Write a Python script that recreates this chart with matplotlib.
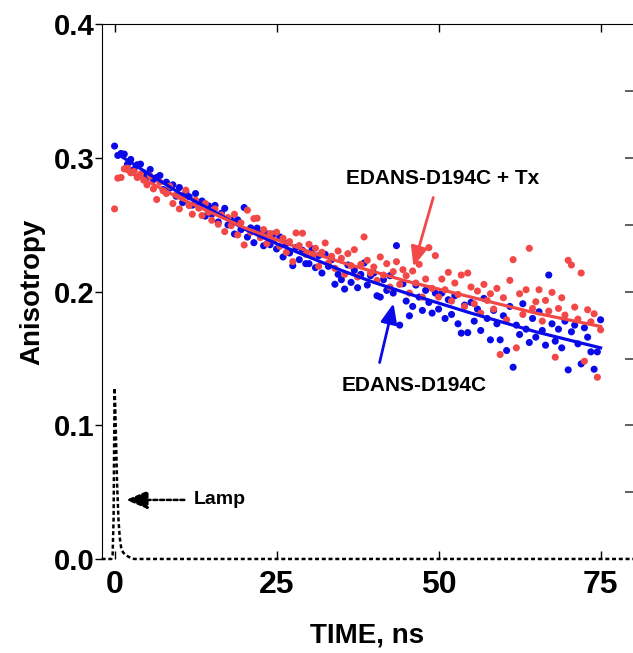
import numpy as np
import matplotlib
matplotlib.use('Agg')
import matplotlib.pyplot as plt

plt.rcParams['font.family'] = ['Liberation Sans', 'DejaVu Sans']
plt.rcParams['font.weight'] = 'bold'

# time channels, ns
time_ns = np.arange(0, 75.5, 0.5)

# EDANS-D194C (blue points)
aniso_d194c = [
    0.309, 0.302, 0.3035, 0.303, 0.2955, 0.299, 0.2915, 0.295, 0.2955, 0.289,
    0.286, 0.2915, 0.284, 0.2855, 0.287, 0.2765, 0.282, 0.2775, 0.280, 0.2715,
    0.278, 0.2667, 0.2744, 0.2711, 0.2648, 0.2735, 0.2642, 0.2679, 0.2566, 0.2643,
    0.258, 0.2646, 0.2522, 0.2588, 0.2624, 0.250, 0.2536, 0.2432, 0.2538, 0.2464,
    0.263, 0.2409, 0.2478, 0.2367, 0.2476, 0.2435, 0.2344, 0.2433, 0.2352, 0.2431,
    0.232, 0.241, 0.226, 0.236, 0.229, 0.2195, 0.233, 0.224, 0.231, 0.221,
    0.221, 0.232, 0.218, 0.227, 0.214, 0.228, 0.219, 0.224, 0.2056, 0.213,
    0.209, 0.202, 0.220, 0.207, 0.216, 0.203, 0.213, 0.2215, 0.205, 0.212,
    0.214, 0.197, 0.196, 0.209, 0.201, 0.212, 0.199, 0.2345, 0.175, 0.206,
    0.193, 0.182, 0.189, 0.205, 0.196, 0.186, 0.201, 0.192, 0.184, 0.199,
    0.187, 0.199, 0.180, 0.194, 0.183, 0.197, 0.176, 0.169, 0.190, 0.1694,
    0.192, 0.178, 0.187, 0.171, 0.195, 0.180, 0.164, 0.186, 0.176, 0.164,
    0.182, 0.156, 0.189, 0.1435, 0.175, 0.168, 0.191, 0.172, 0.162, 0.180,
    0.166, 0.185, 0.171, 0.160, 0.2125, 0.176, 0.163, 0.172, 0.158, 0.178,
    0.1415, 0.170, 0.175, 0.161, 0.146, 0.173, 0.166, 0.155, 0.142, 0.155,
    0.179,
]

# EDANS-D194C + Tx (red points)
aniso_d194c_tx = [
    0.262, 0.285, 0.2855, 0.292, 0.2925, 0.289, 0.290, 0.2855, 0.288, 0.2835,
    0.280, 0.2865, 0.277, 0.269, 0.282, 0.2755, 0.2735, 0.279, 0.266, 0.2725,
    0.262, 0.2705, 0.276, 0.2645, 0.258, 0.2685, 0.2625, 0.257, 0.266, 0.2595,
    0.2535, 0.262, 0.2505, 0.2575, 0.245, 0.2555, 0.2495, 0.258, 0.2425, 0.2515,
    0.235, 0.261, 0.2445, 0.2547, 0.255, 0.2405, 0.2465, 0.236, 0.2435, 0.2385,
    0.2445, 0.234, 0.240, 0.2295, 0.2375, 0.2225, 0.244, 0.2345, 0.2438, 0.228,
    0.2355, 0.2265, 0.2325, 0.219, 0.2295, 0.2365, 0.2215, 0.2265, 0.2175, 0.2305,
    0.225, 0.213, 0.2285, 0.2195, 0.2315, 0.211, 0.2205, 0.241, 0.2235, 0.214,
    0.2185, 0.2085, 0.226, 0.2125, 0.221, 0.2035, 0.215, 0.2225, 0.2055, 0.2165,
    0.212, 0.199, 0.2155, 0.2065, 0.2205, 0.196, 0.2095, 0.233, 0.2025, 0.227,
    0.196, 0.2095, 0.2015, 0.2145, 0.193, 0.2065, 0.198, 0.2125, 0.189, 0.214,
    0.2035, 0.191, 0.2005, 0.184, 0.2055, 0.1935, 0.1985, 0.187, 0.2025, 0.153,
    0.1955, 0.179, 0.2085, 0.224, 0.158, 0.1985, 0.183, 0.2015, 0.2325, 0.1875,
    0.1925, 0.2015, 0.178, 0.1935, 0.1855, 0.1995, 0.151, 0.1875, 0.1955, 0.1825,
    0.2235, 0.220, 0.1885, 0.1795, 0.214, 0.148, 0.1865, 0.1775, 0.1835, 0.136,
    0.1715,
]

# fitted curves
fit_t_blue = [0.5, 5, 10, 15, 20, 25, 30, 35, 40, 45, 50, 55, 60, 65, 70, 75]
fit_blue = [0.303, 0.289, 0.274, 0.261, 0.247, 0.236, 0.226, 0.216, 0.207,
            0.199, 0.1915, 0.184, 0.177, 0.170, 0.164, 0.158]
fit_t_red = [1.5, 5, 10, 15, 20, 25, 30, 35, 40, 45, 50, 55, 60, 65, 70, 75]
fit_red = [0.291, 0.283, 0.270, 0.259, 0.248, 0.239, 0.230, 0.222, 0.215,
           0.208, 0.202, 0.196, 0.190, 0.184, 0.179, 0.174]

# lamp profile
lamp_t = [-2, -0.5, -0.3, -0.15, 0.0, 0.1, 0.25, 0.4, 0.6, 0.8, 1.0, 1.3, 1.7, 2.2, 3.0, 80]
lamp_y = [0, 0, 0.003, 0.03, 0.128, 0.115, 0.085, 0.055, 0.03, 0.016, 0.009,
          0.005, 0.003, 0.0015, 0, 0]

blue = '#0a0ae8'
red = '#f24848'

fig = plt.figure(figsize=(6.33, 6.53), dpi=100)
ax = fig.add_axes([0.1605, 0.144, 1.0 - 0.1605, 0.9625 - 0.144])

ax.plot(lamp_t, lamp_y, color='black', lw=1.8, ls=(0, (1.6, 1.1)), zorder=2,
        clip_on=False)

ax.scatter(time_ns, aniso_d194c, s=26, color=blue, edgecolors='none', zorder=3)
ax.scatter(time_ns, aniso_d194c_tx, s=26, color=red, edgecolors='none', zorder=3)
ax.plot(fit_t_blue, fit_blue, color=blue, lw=2.3, zorder=4)
ax.plot(fit_t_red, fit_red, color=red, lw=2.3, zorder=4)

ax.set_xlim(-2, 80)
ax.set_ylim(0, 0.4)
ax.set_xticks([0, 25, 50, 75])
ax.set_yticks([0.0, 0.1, 0.2, 0.3, 0.4])
ax.set_yticklabels(['0.0', '0.1', '0.2', '0.3', '0.4'])
ax.tick_params(axis='x', direction='in', top=True, bottom=True, length=6,
               width=1, labelsize=23, pad=8)
ax.tick_params(axis='y', direction='out', left=True, right=False, length=5,
               width=1, labelsize=21, pad=0)
ax.spines['bottom'].set_visible(False)
ax.spines['right'].set_visible(False)

ax2 = ax.twinx()
ax2.set_ylim(0, 0.4)
ax2.set_yticks([0.05, 0.1, 0.15, 0.2, 0.25, 0.3, 0.35])
ax2.tick_params(axis='y', direction='in', length=6, width=1.2, color='#444444',
                labelright=False)
for s in ax2.spines.values():
    s.set_visible(False)

ax.set_xlabel('TIME, ns', fontsize=20, fontweight='bold', labelpad=16)
ax.set_ylabel('Anisotropy', fontsize=20, fontweight='bold', labelpad=6)

# annotations
ax.annotate('', xy=(46.0, 0.2168), xytext=(49.3, 0.2725),
            arrowprops=dict(arrowstyle='-|>,head_length=1.2,head_width=0.5',
                            color=red, lw=2))
ax.text(50.7, 0.285, 'EDANS-D194C + Tx', fontsize=15, fontweight='bold',
        ha='center', va='center')
ax.annotate('', xy=(43.15, 0.1933), xytext=(40.8, 0.145),
            arrowprops=dict(arrowstyle='-|>,head_length=1.2,head_width=0.5',
                            color=blue, lw=2))
ax.text(46.3, 0.130, 'EDANS-D194C', fontsize=15, fontweight='bold',
        ha='center', va='center')
ax.annotate('', xy=(1.35, 0.0442), xytext=(11.2, 0.0442),
            arrowprops=dict(arrowstyle='-|>,head_length=1.3,head_width=0.55',
                            color='black', lw=1.8, ls=(0, (1.6, 1.1))))
ax.text(12.2, 0.0442, 'Lamp', fontsize=14, fontweight='bold',
        ha='left', va='center')

fig.savefig('out.png', dpi=100)
